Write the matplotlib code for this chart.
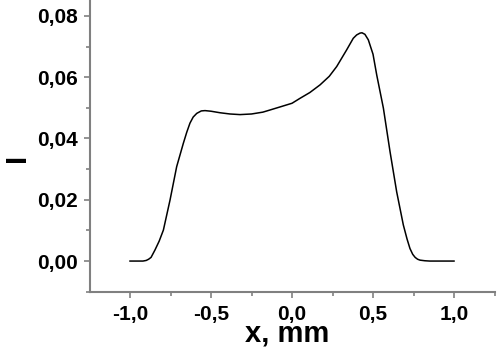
import matplotlib
matplotlib.use("Agg")
import matplotlib.pyplot as plt
from matplotlib.ticker import MultipleLocator, FuncFormatter

# профиль интенсивности, значения
x_mm = [-1.0, -0.95, -0.92, -0.9, -0.885, -0.87, -0.846, -0.82, -0.794, -0.753,
        -0.712, -0.671, -0.650, -0.630, -0.610, -0.588, -0.56, -0.537, -0.50, -0.444,
        -0.383, -0.321, -0.25, -0.18, -0.136, -0.074, 0.0, 0.049, 0.11, 0.173,
        0.23, 0.276, 0.337, 0.378, 0.399, 0.42, 0.432, 0.45, 0.471, 0.50,
        0.523, 0.564, 0.605, 0.646, 0.687, 0.71, 0.728, 0.745, 0.76, 0.775,
        0.79, 0.82, 0.85, 1.0]
intensity = [0.0, 0.0, 0.0, 0.0002, 0.0006, 0.0012, 0.0036, 0.0065, 0.0101, 0.0199,
             0.0308, 0.0384, 0.0420, 0.0450, 0.0470, 0.0482, 0.0490, 0.0491, 0.0489, 0.0484,
             0.0480, 0.0478, 0.0480, 0.0486, 0.0493, 0.0503, 0.0515, 0.0531, 0.0550, 0.0575,
             0.0603, 0.0635, 0.0689, 0.0727, 0.0738, 0.0744, 0.0745, 0.0740, 0.0722, 0.0675,
             0.0607, 0.0499, 0.0357, 0.0226, 0.0118, 0.0072, 0.0041, 0.0022, 0.0012, 0.0006,
             0.0003, 0.0001, 0.0, 0.0]

plt.rcParams['font.family'] = ['Liberation Sans', 'DejaVu Sans']
plt.rcParams['font.weight'] = 'bold'

fig = plt.figure(figsize=(4.98, 3.5), dpi=100)
ax = fig.add_axes([0.1807, 0.1657, 0.8133, 0.8343])

ax.plot(x_mm, intensity, color='black', lw=1.1)

ax.set_xlim(-1.247, 1.253)
ax.set_ylim(-0.0101, 0.0852)

ax.xaxis.set_major_locator(MultipleLocator(0.5))
ax.xaxis.set_minor_locator(MultipleLocator(0.25))
ax.yaxis.set_major_locator(MultipleLocator(0.02))
ax.yaxis.set_minor_locator(MultipleLocator(0.01))

ax.xaxis.set_major_formatter(FuncFormatter(lambda v, p: f"{v:.1f}".replace('.', ',').replace('-0,0', '0,0')))
ax.yaxis.set_major_formatter(FuncFormatter(lambda v, p: f"{v:.2f}".replace('.', ',').replace('-0,00', '0,00')))

for side in ['top', 'right']:
    ax.spines[side].set_visible(False)
for side in ['left', 'bottom']:
    ax.spines[side].set_color('#808080')
    ax.spines[side].set_linewidth(1.5)

ax.tick_params(which='major', direction='out', length=4, width=1.2, color='#808080',
               labelsize=15, pad=5)
ax.tick_params(which='minor', direction='out', length=3, width=1.2, color='#808080')

ax.set_xlabel('x, mm', fontsize=21, fontweight='bold')
ax.xaxis.set_label_coords(0.486, -0.168)
ax.xaxis.label.set_va('baseline')

ax.set_ylabel('I', fontsize=21, fontweight='bold')
ax.yaxis.set_label_coords(-0.18, 0.459)
ax.yaxis.label.set_va('center')
ax.yaxis.label.set_ha('center')

fig.savefig('out.png', dpi=100)
